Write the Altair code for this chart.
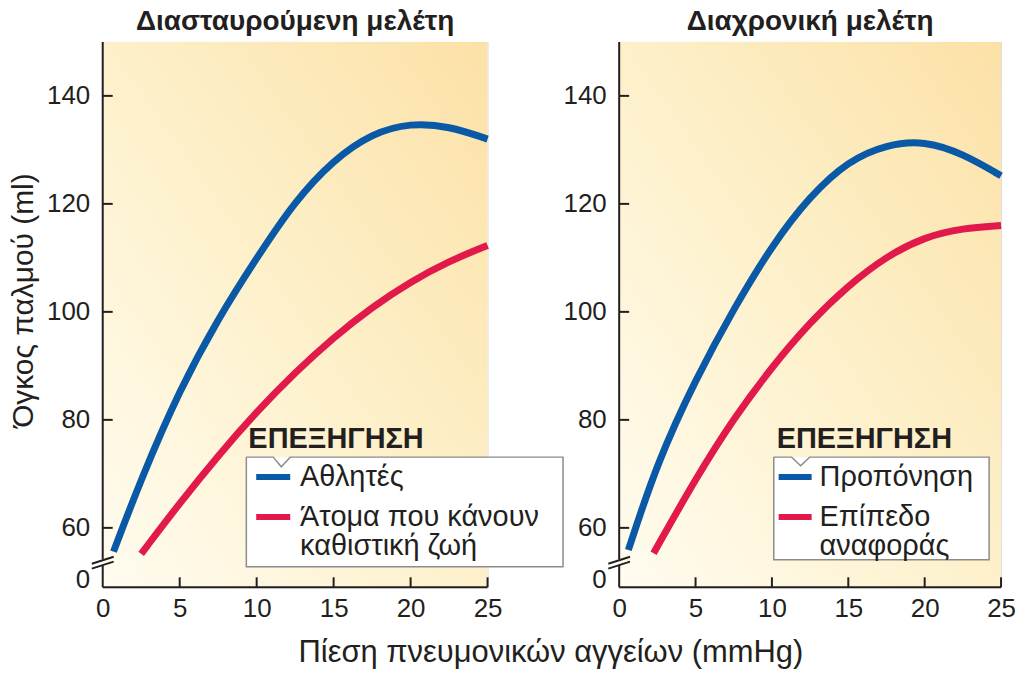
import altair as alt
import pandas as pd

FONT = "Liberation Sans"
BLUE = "#0a59a6"
RED = "#e2194b"
INK = "#231f20"

# ---- data ----
titles = ["Διασταυρούμενη μελέτη", "Διαχρονική μελέτη"]
legend_title = "ΕΠΕΞΗΓΗΣΗ"
series_left = ["Αθλητές", "Άτομα που κάνουν καθιστική ζωή"]
series_right = ["Προπόνηση", "Επίπεδο αναφοράς"]
label_lines_left = [["Αθλητές"], ["Άτομα που κάνουν", "καθιστική ζωή"]]
label_lines_right = [["Προπόνηση"], ["Επίπεδο", "αναφοράς"]]

x_left_blue = [0.7, 2.5, 5, 7.5, 10, 12.5, 15, 17.5, 20, 22.5, 25]
y_left_blue = [55.6, 69.1, 85.6, 98.8, 110.0, 120.6, 128.2, 133.1, 135.0, 134.4, 132.0]
x_left_red = [2.5, 5, 7.5, 10, 12.5, 15, 17.5, 20, 22.5, 25]
y_left_red = [55.2, 64.6, 73.4, 81.5, 88.8, 95.3, 100.9, 105.6, 109.4, 112.3]

x_right_blue = [0.6, 2.5, 5, 7.5, 10, 12.5, 15, 17.5, 20, 22.5, 25]
y_right_blue = [55.9, 72.2, 87.5, 100.6, 112.3, 121.5, 128.0, 131.0, 131.7, 129.3, 125.2]
x_right_red = [2.25, 5, 7.5, 10, 12.5, 15, 17.5, 20, 22.5, 25]
y_right_red = [55.3, 69.1, 80.3, 89.8, 98.1, 104.9, 110.3, 113.9, 115.5, 116.0]

x_ticks = [0, 5, 10, 15, 20, 25]
y_ticks = [60, 80, 100, 120, 140]
y_zero_pos = 50.4          # where the broken-axis "0" label sits
x_domain = [0, 25]
y_domain = [49, 150]
y_break = [53.1, 54.2]     # gap in the y axis line

x_title = "Πίεση πνευμονικών αγγείων (mmHg)"
y_title = "Όγκος παλμού (ml)"

# legend geometry, in data units of each panel
legend_geo_left = dict(tx=9.46, ty=76.4, bx=9.33, bx2=29.9, by=73.1, by2=52.8,
                       notch=[11.08, 11.6, 12.18], notch_y=71.3,
                       sx=9.97, sx2=12.18, lx=12.82, rows=[69.4, 62.0, 56.7])
legend_geo_right = dict(tx=10.31, ty=76.4, bx=10.12, bx2=24.22, by=73.1, by2=54.1,
                        notch=[11.29, 11.88, 12.47], notch_y=71.5,
                        sx=10.44, sx2=12.6, lx=13.12, rows=[69.4, 62.0, 56.7])


def panel(title, names, lines, xb, yb, xr, yr, geo, width, height, first):
    xs = alt.Scale(domain=x_domain, nice=False, zero=False)
    ys = alt.Scale(domain=y_domain, nice=False, zero=False)
    cs = alt.Scale(domain=names, range=[BLUE, RED])

    bg = pd.DataFrame([{"x": x_domain[0], "x2": x_domain[1], "y": y_domain[0], "y2": y_domain[1]}])
    grad = alt.Gradient(
        gradient="linear",
        stops=[alt.GradientStop(color="#fffcf0", offset=0),
               alt.GradientStop(color="#fdf0ca", offset=0.5),
               alt.GradientStop(color="#fce1a7", offset=1)],
        x1=0, y1=1, x2=1, y2=0)

    xaxis = alt.Axis(values=x_ticks, ticks=False, domain=False, grid=False,
                     labelFontSize=26, labelPadding=8, labelColor=INK, labelFont=FONT,
                     labelFlush=False,
                     title=x_title if first else "", titleFontSize=31, titleFont=FONT,
                     titleFontWeight="normal", titleColor=INK,
                     titleX=449, titleY=65, titleAlign="center", titleBaseline="middle")
    yaxis = alt.Axis(values=[y_zero_pos] + y_ticks, ticks=False, domain=False, grid=False,
                     labelExpr="datum.value < 55 ? '0' : datum.label",
                     labelFontSize=26, labelPadding=13, labelColor=INK, labelFont=FONT,
                     title=y_title if first else "", titleFontSize=30, titleFont=FONT,
                     titleFontWeight="normal", titleColor=INK,
                     titleX=-79, titleY=259, titleAngle=270,
                     titleAlign="center", titleBaseline="middle")

    background = alt.Chart(bg).mark_rect(color=grad).encode(
        x=alt.X("x:Q", scale=xs, axis=xaxis),
        x2="x2:Q",
        y=alt.Y("y:Q", scale=ys, axis=yaxis),
        y2="y2:Q",
    )

    # axis lines (y axis broken near the bottom)
    ysegs = pd.DataFrame([{"y": y_domain[0], "y2": y_break[0]},
                          {"y": y_break[1], "y2": y_domain[1]}])
    yline = alt.Chart(ysegs).mark_rule(color=INK, strokeWidth=2).encode(
        x=alt.value(0), y="y:Q", y2="y2:Q")
    xline = alt.Chart(bg).mark_rule(color=INK, strokeWidth=2).encode(
        x="x:Q", x2="x2:Q", y=alt.value(height))

    yt = pd.DataFrame({"y": y_ticks})
    yticks = alt.Chart(yt).mark_rule(color=INK, strokeWidth=2).encode(
        y="y:Q", x=alt.value(0), x2=alt.value(10))
    xt = pd.DataFrame({"x": x_ticks[1:]})
    xticks = alt.Chart(xt).mark_rule(color=INK, strokeWidth=2).encode(
        x="x:Q", y=alt.value(height), y2=alt.value(height - 10))

    brk = pd.DataFrame([{"x": -0.71, "x2": 0.71, "y": y_break[0] + 0.25, "y2": y_break[0] + 1.55},
                        {"x": -0.71, "x2": 0.71, "y": y_break[0] - 0.65, "y2": y_break[0] + 0.65}])
    breaks = alt.Chart(brk).mark_rule(color=INK, strokeWidth=2).encode(
        x="x:Q", x2="x2:Q", y="y:Q", y2="y2:Q")

    curves_df = pd.concat([
        pd.DataFrame({"x": xb, "y": yb, "series": names[0]}),
        pd.DataFrame({"x": xr, "y": yr, "series": names[1]}),
    ])
    curves = alt.Chart(curves_df).mark_line(strokeWidth=7, strokeCap="butt",
                                            interpolate="basis").encode(
        x="x:Q", y="y:Q",
        color=alt.Color("series:N", scale=cs, legend=None),
        detail="series:N",
    )

    # legend box with notch
    box_df = pd.DataFrame([{"x": geo["bx"], "x2": geo["bx2"], "y": geo["by"], "y2": geo["by2"]}])
    box = alt.Chart(box_df).mark_rect(fill="white").encode(
        x="x:Q", x2="x2:Q", y="y:Q", y2="y2:Q")
    n = geo["notch"]
    outline_pts = [
        (geo["bx"], geo["by"]), (n[0], geo["by"]), (n[1], geo["notch_y"]), (n[2], geo["by"]),
        (geo["bx2"], geo["by"]), (geo["bx2"], geo["by2"]), (geo["bx"], geo["by2"]),
        (geo["bx"], geo["by"]),
    ]
    outline_df = pd.DataFrame([{"x": a, "y": b, "o": i} for i, (a, b) in enumerate(outline_pts)])
    outline = alt.Chart(outline_df).mark_line(color="#8c8c8c", strokeWidth=1.5,
                                               strokeJoin="miter").encode(
        x="x:Q", y="y:Q", order="o:Q")

    ltitle = alt.Chart(pd.DataFrame([{"x": geo["tx"], "y": geo["ty"], "t": legend_title}])).mark_text(
        align="left", baseline="middle", font=FONT, fontSize=29, fontWeight="bold", color=INK
    ).encode(x="x:Q", y="y:Q", text="t:N")

    sw_df = pd.DataFrame([{"x": geo["sx"], "x2": geo["sx2"], "y": geo["rows"][0], "series": names[0]},
                          {"x": geo["sx"], "x2": geo["sx2"], "y": geo["rows"][1], "series": names[1]}])
    swatches = alt.Chart(sw_df).mark_rule(strokeWidth=6).encode(
        x="x:Q", x2="x2:Q", y="y:Q",
        color=alt.Color("series:N", scale=cs, legend=None))

    rows = []
    k = 0
    for grp in lines:
        for line in grp:
            rows.append({"x": geo["lx"], "y": geo["rows"][k], "t": line})
            k += 1
    ltext = alt.Chart(pd.DataFrame(rows)).mark_text(
        align="left", baseline="middle", font=FONT, fontSize=29, color=INK
    ).encode(x="x:Q", y="y:Q", text="t:N")

    return alt.layer(background, yline, xline, yticks, xticks, breaks, curves,
                     box, outline, ltitle, swatches, ltext).properties(
        width=width, height=height,
        title=alt.TitleParams(title, font=FONT, fontSize=28, fontWeight="bold",
                              color=INK, anchor="middle", offset=5),
    )


left = panel(titles[0], series_left, label_lines_left, x_left_blue, y_left_blue,
             x_left_red, y_left_red, legend_geo_left, 386, 547, True)
right = panel(titles[1], series_right, label_lines_right, x_right_blue, y_right_blue,
              x_right_red, y_right_red, legend_geo_right, 383, 547, False)

chart = alt.hconcat(left, right, spacing=132, bounds="flush").resolve_scale(
    color="independent", x="independent", y="independent"
).properties(
    padding={"top": -2, "left": 0, "right": 0, "bottom": 0}
).configure_view(stroke=None).configure(font=FONT)

chart.save("out.html", embed_options={"renderer": "svg", "actions": False})
